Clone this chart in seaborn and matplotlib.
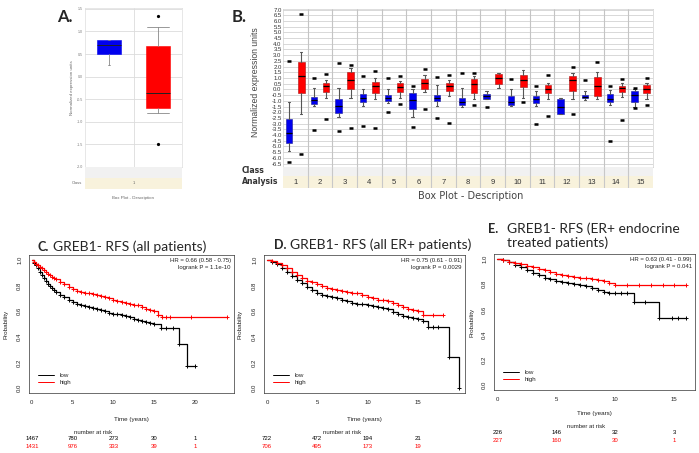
import numpy as np
import matplotlib
matplotlib.use("Agg")
import matplotlib.pyplot as plt
import matplotlib.transforms as mtransforms
from matplotlib.lines import Line2D
import seaborn as sns

# ---------------- data ----------------
# panel A: one class, low (blue) vs high (red)
a_blue = dict(whislo=0.26, q1=0.50, med=0.70, q3=0.81, whishi=0.82, fliers=[])
a_red = dict(whislo=-0.80, q1=-0.69, med=-0.36, q3=0.67, whishi=1.11, fliers=[1.35, -1.50])
a_ticks = [1.5, 1.0, 0.5, 0.0, -0.5, -1.0, -1.5, -2.0]

# panel B: 15 analyses
analyses = list(range(1, 16))
b_lo = [-5.4, -1.45, -2.39, -1.45, -1.22, -2.4, -1.45, -1.54, -0.87, -1.45, -1.45, -2.18, -0.9, -1.37, -1.5]
b_q1 = [-4.74, -1.25, -2.1, -1.13, -1.01, -1.7, -1.0, -1.34, -0.81, -1.34, -1.22, -2.15, -0.75, -1.13, -1.13]
b_med = [-3.8, -0.92, -1.45, -0.72, -0.72, -0.9, -0.72, -1.07, -0.57, -1.07, -0.87, -1.55, -0.63, -0.84, -0.5]
b_q3 = [-2.6, -0.63, -0.81, -0.37, -0.49, -0.3, -0.49, -0.78, -0.4, -0.57, -0.54, -0.8, -0.52, -0.43, -0.1]
b_hi = [-1.07, 0.09, 0.09, 0.0, 0.03, 0.0, 0.42, 0.16, -0.15, 0.03, -0.1, -0.78, -0.18, -0.04, 0.0]
b_out_hi = [2.45, 1.04, 2.33, 1.16, 1.0, 0.31, 1.1, 1.45, None, 0.92, 0.31, None, 0.81, 0.28, 0.16]
b_out_lo = [-6.38, -3.57, -3.68, -3.21, -1.98, -3.27, -2.5, None, -1.54, None, -3.0, None, None, -4.5, -1.66]

r_lo = [-2.16, -0.72, -0.72, -0.81, -0.75, -0.22, -0.57, -0.81, 0.1, -0.72, -0.81, -0.81, -0.8, -0.63, -0.87]
r_q1 = [-0.3, -0.22, 0.04, -0.3, -0.22, 0.07, -0.13, -0.28, 0.46, 0.25, -0.31, -0.13, -0.54, -0.19, -0.34]
r_med = [1.16, 0.33, 0.81, 0.31, 0.19, 0.54, 0.31, 0.48, 1.0, 0.84, 0.07, 0.84, 0.28, 0.1, 0.07]
r_q3 = [2.39, 0.6, 1.51, 0.69, 0.54, 0.95, 0.54, 0.92, 1.34, 1.25, 0.37, 1.22, 1.13, 0.31, 0.42]
r_hi = [3.27, 0.84, 1.86, 1.04, 0.75, 1.3, 0.84, 1.19, 1.4, 1.72, 0.57, 1.48, 1.57, 0.54, 0.57]
r_out_hi = [6.65, 1.37, 2.13, 1.63, 1.16, 1.78, 1.28, 1.45, None, None, 1.25, 1.98, 2.39, 0.9, 1.04]
r_out_lo = [-5.65, -2.6, -3.36, -3.42, -1.28, -1.75, -2.98, -1.4, None, -1.1, -2.3, -2.13, None, -2.66, -1.4]
b_ticks = [7.0 - 0.5 * i for i in range(28)]

# Kaplan-Meier curves
c_low_t = [0, 0.25, 0.5, 0.75, 1, 1.25, 1.5, 1.75, 2, 2.25, 2.5, 2.75, 3, 3.5, 4, 4.5, 5, 5.5, 6, 6.5, 7, 7.5, 8,
           8.5, 9, 9.5, 10, 10.5, 11, 11.5, 12, 12.5, 13, 13.5, 14, 14.5, 15, 15.8, 16.5, 17.3, 18, 19, 20]
c_low_s = [1.0, 0.98, 0.96, 0.935, 0.91, 0.885, 0.86, 0.835, 0.81, 0.795, 0.78, 0.765, 0.75, 0.73, 0.71, 0.69,
           0.67, 0.655, 0.645, 0.637, 0.63, 0.622, 0.615, 0.607, 0.6, 0.59, 0.58, 0.577, 0.573, 0.565, 0.555,
           0.543, 0.53, 0.522, 0.515, 0.507, 0.5, 0.47, 0.47, 0.47, 0.34, 0.17, 0.17]
c_high_t = [0, 0.25, 0.5, 0.75, 1, 1.25, 1.5, 1.75, 2, 2.25, 2.5, 2.75, 3, 3.5, 4, 4.5, 5, 5.5, 6, 6.5, 7, 7.5, 8,
            8.5, 9, 9.5, 10, 10.5, 11, 11.5, 12, 12.5, 13, 13.5, 14, 14.5, 15, 15.5, 16, 16.5, 17, 19.5, 24]
c_high_s = [1.0, 0.985, 0.97, 0.96, 0.95, 0.935, 0.92, 0.907, 0.895, 0.882, 0.87, 0.86, 0.85, 0.83, 0.81, 0.79,
            0.776, 0.762, 0.75, 0.745, 0.74, 0.735, 0.73, 0.722, 0.715, 0.703, 0.69, 0.682, 0.673, 0.667, 0.66,
            0.652, 0.645, 0.632, 0.62, 0.61, 0.6, 0.57, 0.553, 0.553, 0.553, 0.553, 0.553]

d_low_t = [0, 0.5, 1, 1.5, 2, 2.5, 3, 3.5, 4, 4.5, 5, 5.5, 6, 6.5, 7, 7.5, 8, 8.5, 9, 9.5, 10, 10.5, 11, 11.5, 12,
           12.5, 13, 13.5, 14, 14.5, 15, 15.5, 16, 16.5, 17, 18.1, 19.1]
d_low_s = [1.0, 0.985, 0.966, 0.937, 0.908, 0.878, 0.848, 0.82, 0.79, 0.765, 0.743, 0.73, 0.717, 0.708, 0.70,
           0.69, 0.678, 0.668, 0.66, 0.653, 0.647, 0.64, 0.633, 0.625, 0.615, 0.597, 0.578, 0.566, 0.555, 0.548,
           0.542, 0.52, 0.48, 0.48, 0.48, 0.24, 0.0]
d_high_t = [0, 0.5, 1, 1.5, 2, 2.5, 3, 3.5, 4, 4.5, 5, 5.5, 6, 6.5, 7, 7.5, 8, 8.5, 9, 9.5, 10, 10.5, 11, 11.5, 12,
            12.5, 13, 13.5, 14, 14.5, 15, 15.5, 16.5, 17.5]
d_high_s = [1.0, 0.99, 0.98, 0.96, 0.935, 0.907, 0.88, 0.86, 0.84, 0.825, 0.81, 0.797, 0.785, 0.775, 0.765, 0.757,
            0.75, 0.745, 0.74, 0.726, 0.712, 0.7, 0.69, 0.684, 0.678, 0.664, 0.65, 0.635, 0.62, 0.61, 0.6, 0.568,
            0.568, 0.568]

e_low_t = [0, 0.5, 1, 1.5, 2, 2.5, 3, 3.5, 4, 4.5, 5, 5.5, 6, 6.5, 7, 7.5, 8, 8.5, 9, 9.5, 10, 10.5, 11, 11.6,
           12.5, 13.7, 14.8, 15.3, 16]
e_low_s = [1.0, 0.99, 0.976, 0.956, 0.936, 0.912, 0.888, 0.87, 0.853, 0.84, 0.827, 0.817, 0.808, 0.8, 0.795, 0.782,
           0.768, 0.755, 0.741, 0.733, 0.728, 0.728, 0.728, 0.661, 0.661, 0.528, 0.528, 0.528, 0.528]
e_high_t = [0, 0.5, 1, 1.5, 2, 2.5, 3, 3.5, 4, 4.5, 5, 5.5, 6, 6.5, 7, 7.5, 8, 8.5, 9, 9.5, 10, 11, 12, 13, 14, 15,
            16]
e_high_s = [1.0, 0.99, 0.98, 0.97, 0.96, 0.947, 0.933, 0.922, 0.91, 0.895, 0.88, 0.873, 0.867, 0.86, 0.853, 0.847,
            0.84, 0.833, 0.827, 0.808, 0.795, 0.795, 0.795, 0.795, 0.795, 0.795, 0.795]

c_risk_t = [0, 5, 10, 15, 20]
c_risk_low = [1467, 780, 273, 30, 1]
c_risk_high = [1431, 976, 333, 39, 1]
d_risk_t = [0, 5, 10, 15]
d_risk_low = [722, 472, 194, 21]
d_risk_high = [706, 495, 173, 19]
e_risk_t = [0, 5, 10, 15]
e_risk_low = [226, 146, 32, 3]
e_risk_high = [227, 160, 30, 1]

# ---------------- figure ----------------
sns.set_style("white")
plt.rcParams['font.family'] = ['Liberation Sans', 'DejaVu Sans']

W, H = 699, 453
fig = plt.figure(figsize=(W / 100, H / 100), dpi=100)


def rect(l, t, r, b):
    return [l / W, 1 - b / H, (r - l) / W, (b - t) / H]


def ftext(x, y, s, **kw):
    fig.text(x / W, 1 - y / H, s, **kw)


BLUE = "#0000ee"
RED = "#ff0000"
CREAM = "#f8f2dc"
BAND = "#f1f1f1"
TITLE_FONT = ['Lato', 'DejaVu Sans']

# ---------- panel A ----------
axA = fig.add_axes(rect(85, 8, 182, 167))
axA.set_xlim(0.5, 2.5)
axA.set_ylim(-2.0, 1.52)
for v in a_ticks:
    axA.axhline(v, color="#dcdcdc", lw=0.6, zorder=0)
axA.axvline(1.5, color="#dcdcdc", lw=0.6, zorder=0)
axA.bxp([a_blue, a_red], positions=[1, 2], widths=0.5, patch_artist=True,
        boxprops=dict(lw=0.4), medianprops=dict(color="#222222", lw=0.7),
        whiskerprops=dict(color="#888888", lw=0.6), capprops=dict(color="#888888", lw=0.6),
        capwidths=[0.05, 0.45],
        flierprops=dict(marker="o", markersize=1.3, markerfacecolor="black", markeredgecolor="black"))
for patch, col in zip(axA.patches, [BLUE, RED]):
    patch.set_facecolor(col)
    patch.set_edgecolor(col)
axA.set_yticks(a_ticks)
axA.set_yticklabels([f"{v:.1f}" for v in a_ticks], fontsize=2.6, color="#777777")
axA.set_xticks([])
axA.tick_params(axis="y", length=0, pad=1.5)
for sp in axA.spines.values():
    sp.set_color("#dddddd")
    sp.set_linewidth(0.5)
axA.set_ylabel("Normalized expression units", fontsize=3.2, color="#666666", labelpad=2)

bandA = fig.add_axes(rect(85, 167, 182, 189))
bandA.set_xlim(0.5, 2.5)
bandA.set_ylim(0, 2)
bandA.axhspan(1, 2, color=BAND, lw=0)
bandA.axhspan(0, 1, color=CREAM, lw=0)
bandA.text(1.5, 0.5, "1", ha="center", va="center", fontsize=3, color="#666666")
bandA.text(0.45, 0.5, "Class", ha="right", va="center", fontsize=3, color="#666666")
bandA.set_xticks([])
bandA.set_yticks([])
for sp in bandA.spines.values():
    sp.set_visible(False)
ftext(133, 198, "Box Plot - Description", ha="center", va="center", fontsize=3.2, color="#666666")
ftext(57, 17, "A.", ha="left", va="center", fontsize=12, fontweight="bold", family=TITLE_FONT)

# ---------- panel B ----------
axB = fig.add_axes(rect(283, 9, 653, 167))
axB.set_xlim(0.5, 15.5)
axB.set_ylim(-6.8, 7.05)
for v in b_ticks:
    axB.axhline(v, color="#d2d2d2", lw=0.6, zorder=0)
for i in analyses[:-1]:
    axB.axvline(i + 0.5, color="#c4c4c4", lw=0.8, zorder=0)


def stats(lo, q1, med, q3, hi, ohi, olo):
    out = []
    for k in range(len(lo)):
        fl = [v for v in (ohi[k], olo[k]) if v is not None]
        out.append(dict(whislo=lo[k], q1=q1[k], med=med[k], q3=q3[k], whishi=hi[k], fliers=fl))
    return out


common = dict(widths=0.27, patch_artist=True, medianprops=dict(color="black", lw=0.9),
              whiskerprops=dict(color="#555555", lw=0.8), capprops=dict(color="#555555", lw=0.8),
              capwidths=0.1,
              flierprops=dict(marker="_", markersize=3.2, markeredgewidth=1.8, markeredgecolor="black"))
axB.bxp(stats(b_lo, b_q1, b_med, b_q3, b_hi, b_out_hi, b_out_lo),
        positions=[i - 0.25 for i in analyses], boxprops=dict(facecolor=BLUE, edgecolor="#1a1a9a", lw=0.4),
        **common)
axB.bxp(stats(r_lo, r_q1, r_med, r_q3, r_hi, r_out_hi, r_out_lo),
        positions=[i + 0.24 for i in analyses], boxprops=dict(facecolor=RED, edgecolor="#aa1010", lw=0.4),
        **common)
axB.set_yticks(b_ticks)
axB.set_yticklabels([f"{v:.1f}" for v in b_ticks], fontsize=4.3, color="#333333")
axB.set_xticks([])
axB.tick_params(axis="y", length=0, pad=1)
for sp in axB.spines.values():
    sp.set_color("#d0d0d0")
    sp.set_linewidth(0.5)
ftext(255, 82, "Normalized expression units", ha="center", va="center", rotation=90, fontsize=6.2,
      color="#444444")

bandB = fig.add_axes(rect(283, 167, 653, 188))
bandB.set_xlim(0.5, 15.5)
bandB.set_ylim(0, 21)
bandB.axhspan(12, 21, color=BAND, lw=0)
bandB.axhspan(0, 12, color=CREAM, lw=0)
for i in analyses[:-1]:
    bandB.axvline(i + 0.5, color="#c8c8c8", lw=0.8)
for i in analyses:
    bandB.text(i, 6, str(i), ha="center", va="center", fontsize=5.5, color="#333333")
bandB.set_xticks([])
bandB.set_yticks([])
for sp in bandB.spines.values():
    sp.set_visible(False)
ftext(242, 171, "Class", ha="left", va="center", fontsize=5.6, fontweight="bold", color="#333333",
      family="DejaVu Sans")
ftext(242, 181, "Analysis", ha="left", va="center", fontsize=5.6, fontweight="bold", color="#333333",
      family="DejaVu Sans")
ftext(471, 196, "Box Plot - Description", ha="center", va="center", fontsize=7, color="#444444",
      family="DejaVu Sans")
ftext(232, 17, "B.", ha="left", va="center", fontsize=12, fontweight="bold", family=TITLE_FONT)


# ---------- KM panels ----------
def km_panel(box, xlim, xticks, low_t, low_s, high_t, high_s, hr, risk_t, risk_low, risk_high, ylab_x,
             risk_y, xlab_y):
    ax = fig.add_axes(rect(*box))
    sns.lineplot(x=low_t, y=low_s, ax=ax, color="black", lw=0.9, drawstyle="steps-post",
                 estimator=None, sort=False)
    sns.lineplot(x=high_t, y=high_s, ax=ax, color=RED, lw=0.9, drawstyle="steps-post",
                 estimator=None, sort=False)
    ax.plot(low_t[1:], low_s[1:], ls="none", marker="+", ms=3.2, mew=0.7, color="black")
    ax.plot(high_t[1:], high_s[1:], ls="none", marker="+", ms=3.2, mew=0.7, color=RED)
    ax.set_xlim(*xlim)
    ax.set_ylim(-0.04, 1.04)
    ax.set_xticks(xticks)
    ax.set_yticks([0, 0.2, 0.4, 0.6, 0.8, 1.0])
    ax.set_yticklabels(["0.0", "0.2", "0.4", "0.6", "0.8", "1.0"], rotation=90, va="center")
    ax.tick_params(labelsize=4.3, length=3, width=0.5, direction="out", pad=2, colors="#222222")
    for sp in ax.spines.values():
        sp.set_color("#333333")
        sp.set_linewidth(0.5)
    ax.set_xlabel("")
    ax.set_ylabel("")
    ax.text(0.985, 0.975, hr, transform=ax.transAxes, ha="right", va="top", fontsize=4.3,
            linespacing=1.3, color="#222222")
    handles = [Line2D([], [], color="black", lw=0.7), Line2D([], [], color=RED, lw=0.7)]
    ax.legend(handles, ["low", "high"], loc="lower left", bbox_to_anchor=(0.02, 0.02), frameon=False,
              fontsize=4.5, handlelength=2.6, handletextpad=0.8, labelspacing=0.25, borderpad=0.3)
    midx = (box[0] + box[2]) / 2
    ftext(midx, xlab_y, "Time (years)", ha="center", va="center", fontsize=4.5, color="#222222")
    ftext(ylab_x, (box[1] + box[3]) / 2, "Probability", ha="center", va="center", rotation=90,
          fontsize=4.5, color="#222222")
    tr = mtransforms.blended_transform_factory(ax.transData, fig.transFigure)
    ax.text(np.mean(xticks[1:3]), 1 - risk_y[0] / H, "number at risk", transform=tr, ha="center",
            va="center", fontsize=4.3, color="#222222", clip_on=False)
    for t, n1, n2 in zip(risk_t, risk_low, risk_high):
        ax.text(t, 1 - risk_y[1] / H, str(n1), transform=tr, ha="center", va="center", fontsize=4.3,
                color="black", clip_on=False)
        ax.text(t, 1 - risk_y[2] / H, str(n2), transform=tr, ha="center", va="center", fontsize=4.3,
                color=RED, clip_on=False)
    return ax


km_panel((29, 255, 234, 393), (-0.35, 24.8), [0, 5, 10, 15, 20], c_low_t, c_low_s, c_high_t, c_high_s,
         "HR = 0.66 (0.58 - 0.75)\nlogrank P = 1.1e-10", c_risk_t, c_risk_low, c_risk_high, 6,
         (432, 439, 446), 419)
km_panel((264, 255, 465, 393), (-0.3, 19.7), [0, 5, 10, 15], d_low_t, d_low_s, d_high_t, d_high_s,
         "HR = 0.75 (0.61 - 0.91)\nlogrank P = 0.0029", d_risk_t, d_risk_low, d_risk_high, 240,
         (432, 439, 446), 419)
km_panel((494, 254, 695, 390), (-0.28, 16.75), [0, 5, 10, 15], e_low_t, e_low_s, e_high_t, e_high_s,
         "HR = 0.63 (0.41 - 0.99)\nlogrank P = 0.041", e_risk_t, e_risk_low, e_risk_high, 472,
         (427, 433, 440), 413)

# panel titles
ftext(37, 247, "C.", ha="left", va="center", fontsize=9, fontweight="bold", family=TITLE_FONT)
ftext(53, 247, "GREB1- RFS (all patients)", ha="left", va="center", fontsize=10, family=TITLE_FONT)
ftext(274, 245, "D.", ha="left", va="center", fontsize=9, fontweight="bold", family=TITLE_FONT)
ftext(290, 245, "GREB1- RFS (all ER+ patients)", ha="left", va="center", fontsize=10, family=TITLE_FONT)
ftext(488, 229, "E.", ha="left", va="center", fontsize=9, fontweight="bold", family=TITLE_FONT)
ftext(507, 229, "GREB1- RFS (ER+ endocrine", ha="left", va="center", fontsize=10, family=TITLE_FONT)
ftext(507, 243, "treated patients)", ha="left", va="center", fontsize=10, family=TITLE_FONT)

fig.savefig("out.png", dpi=100)
